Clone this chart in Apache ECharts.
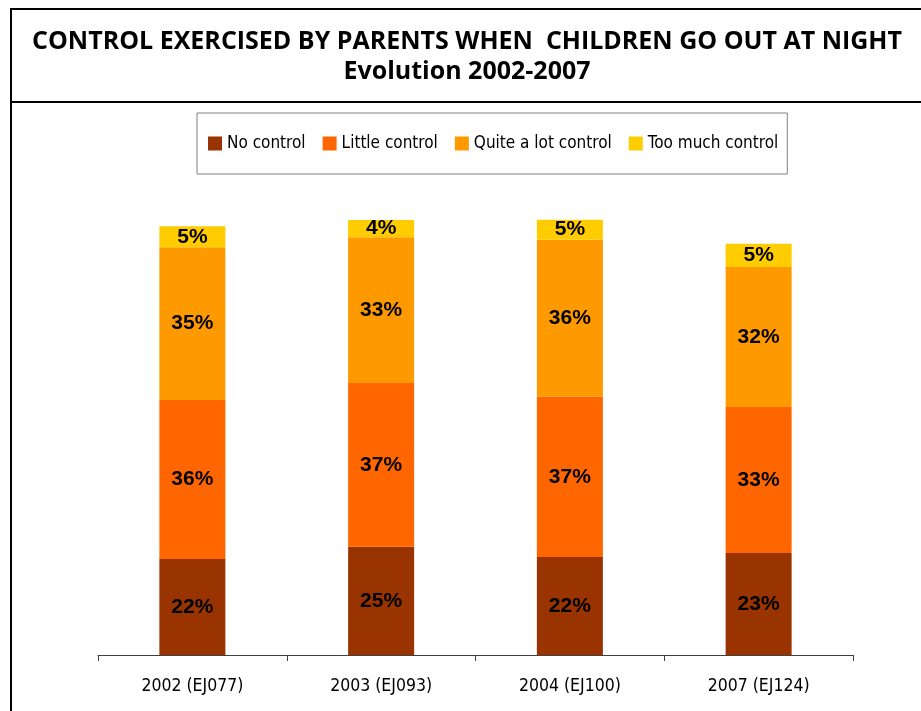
<!DOCTYPE html>
<html>
<head>
<meta charset="utf-8">
<script src="https://cdn.jsdelivr.net/npm/echarts@6/dist/echarts.min.js"></script>
<style>
  html, body { margin: 0; padding: 0; background: #fff; }
  #chart { width: 921px; height: 711px; }
</style>
</head>
<body>
<div id="chart"></div>
<script>
var categories = ["2002 (EJ077)", "2003 (EJ093)", "2004 (EJ100)", "2007 (EJ124)"];
var legendNames = ["No control", "Little control", "Quite a lot control", "Too much control"];
var noControl = [21.9, 24.7, 22.4, 23.3];
var littleControl = [36.3, 37.4, 36.6, 33.3];
var quiteALot = [34.9, 33.3, 35.8, 32.0];
var tooMuch = [4.8, 3.9, 4.6, 5.3];
var colors = ["#993300", "#FF6600", "#FF9900", "#FFCC00"];
var titleLines = ["CONTROL EXERCISED BY PARENTS WHEN  CHILDREN GO OUT AT NIGHT", "Evolution 2002-2007"];

var narrow = "'Liberation Sans Narrow', 'Arial Narrow', 'DejaVu Sans Condensed', sans-serif";
var titleFont = "bold 25px 'Open Sans', sans-serif";

var chart = echarts.init(document.getElementById("chart"));

function makeSeries(name, data, color) {
  return {
    name: name,
    type: "bar",
    stack: "total",
    barWidth: 66,
    itemStyle: { color: color },
    label: {
      show: true,
      position: "inside",
      color: "#000",
      fontSize: 21,
      fontWeight: "bold",
      fontFamily: "'Liberation Sans', Arial, sans-serif",
      formatter: function (p) { return Math.round(p.value) + "%"; }
    },
    data: data
  };
}

var option = {
  backgroundColor: "#fff",
  animation: false,
  graphic: [
    // frame lines round the title
    { type: "line", shape: { x1: 10, y1: 9, x2: 921, y2: 9 }, style: { stroke: "#000", lineWidth: 2 } },
    { type: "line", shape: { x1: 10, y1: 102, x2: 921, y2: 102 }, style: { stroke: "#000", lineWidth: 2 } },
    { type: "line", shape: { x1: 11, y1: 8, x2: 11, y2: 711 }, style: { stroke: "#000", lineWidth: 2 } },
    { type: "text", x: 467, y: 42, style: { text: titleLines[0], font: titleFont, fill: "#000", textAlign: "center", textVerticalAlign: "middle" } },
    { type: "text", x: 467, y: 72, style: { text: titleLines[1], font: titleFont, fill: "#000", textAlign: "center", textVerticalAlign: "middle" } }
  ],
  legend: {
    data: legendNames,
    left: 197,
    top: 113,
    padding: [22, 9, 22, 11],
    borderColor: "#808080",
    borderWidth: 1,
    itemWidth: 14,
    itemHeight: 14,
    itemGap: 17,
    icon: "rect",
    textStyle: { fontSize: 17, color: "#000", fontFamily: narrow }
  },
  grid: { left: 98, right: 68, top: 217, bottom: 56 },
  xAxis: {
    type: "category",
    data: categories,
    axisLine: { lineStyle: { color: "#404040", width: 1 } },
    axisTick: { show: true, length: 6, lineStyle: { color: "#404040" } },
    axisLabel: { color: "#000", fontSize: 17.5, fontFamily: narrow, margin: 22 }
  },
  yAxis: {
    type: "value",
    min: 0,
    max: 100,
    show: false
  },
  series: [
    makeSeries(legendNames[0], noControl, colors[0]),
    makeSeries(legendNames[1], littleControl, colors[1]),
    makeSeries(legendNames[2], quiteALot, colors[2]),
    makeSeries(legendNames[3], tooMuch, colors[3])
  ]
};

chart.setOption(option);
</script>
</body>
</html>
